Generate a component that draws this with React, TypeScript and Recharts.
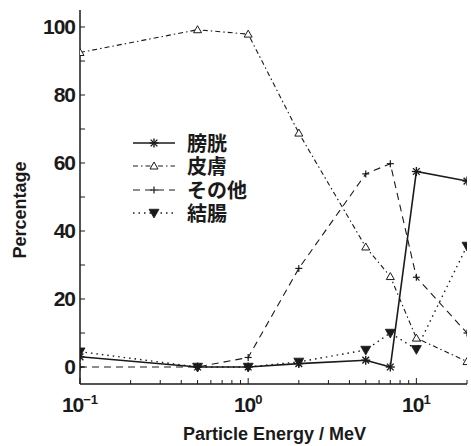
import { LineChart, Line, XAxis, YAxis } from 'recharts'

const energy = [0.1, 0.5, 1, 2, 5, 7, 10, 20]
const bladder = [3, 0, 0, 1, 2, 0, 57.5, 54.7]
const skin = [92.5, 99.2, 97.9, 68.8, 35.3, 26.6, 8.5, 1.6]
const other = [0, 0, 2.8, 29, 56.8, 59.8, 26.4, 10]
const colon = [4.5, 0, 0, 1.5, 5, 10, 5.2, 35.6]

const xTicks = [0.1, 0.2, 0.3, 0.4, 0.5, 0.6, 0.7, 0.8, 0.9, 1, 2, 3, 4, 5, 6, 7, 8, 9, 10, 20]
const xMajor = [0.1, 1, 10]
const xMajorLabels = ['−1', '0', '1']
const yTicks = [0, 10, 20, 30, 40, 50, 60, 70, 80, 90, 100]

const data = energy.map((e, i) => ({
  e,
  bladder: bladder[i],
  skin: skin[i],
  other: other[i],
  colon: colon[i],
}))

const INK = '#1a1a1a'
const FONT = '"Liberation Sans", Arial, sans-serif'

function Asterisk({ cx, cy, r = 4.5 }: any) {
  const d = r * 0.75
  return (
    <g stroke={INK} strokeWidth={1.4}>
      <line x1={cx - r} y1={cy} x2={cx + r} y2={cy} />
      <line x1={cx} y1={cy - r} x2={cx} y2={cy + r} />
      <line x1={cx - d} y1={cy - d} x2={cx + d} y2={cy + d} />
      <line x1={cx - d} y1={cy + d} x2={cx + d} y2={cy - d} />
    </g>
  )
}

function TriUp({ cx, cy, r = 4 }: any) {
  return (
    <polygon
      points={`${cx},${cy - r} ${cx - r},${cy + r * 0.75} ${cx + r},${cy + r * 0.75}`}
      fill="#fff"
      stroke={INK}
      strokeWidth={1}
    />
  )
}

function Plus({ cx, cy, r = 3.5 }: any) {
  return (
    <g stroke={INK} strokeWidth={1.2}>
      <line x1={cx - r} y1={cy} x2={cx + r} y2={cy} />
      <line x1={cx} y1={cy - r} x2={cx} y2={cy + r} />
    </g>
  )
}

function TriDown({ cx, cy, r = 5 }: any) {
  return (
    <polygon
      points={`${cx - r},${cy - r * 0.75} ${cx + r},${cy - r * 0.75} ${cx},${cy + r}`}
      fill={INK}
      stroke={INK}
      strokeWidth={0.8}
    />
  )
}

const series = [
  { key: 'bladder', name: '膀胱', dash: undefined, width: 1.6, Marker: Asterisk },
  { key: 'skin', name: '皮膚', dash: '5 3 1.5 3', width: 1.1, Marker: TriUp },
  { key: 'other', name: 'その他', dash: '7 5', width: 1.1, Marker: Plus },
  { key: 'colon', name: '結腸', dash: '1.5 4', width: 1.4, Marker: TriDown },
]

function BottomTick(props: any) {
  const { x, y, payload } = props
  const v = payload.value
  const mi = xMajor.findIndex((m) => Math.abs(m - v) < 1e-9)
  const len = mi >= 0 ? 6 : 4
  return (
    <g>
      <line x1={x} y1={y} x2={x} y2={y - len} stroke={INK} strokeWidth={1} />
      {mi >= 0 && (
        <text x={x} y={y + 28} textAnchor="middle" fontFamily={FONT} fontWeight="bold" fontSize={21} fill={INK}>
          <tspan letterSpacing={-1}>10</tspan>
          <tspan dy={-8} fontSize={13}>{xMajorLabels[mi]}</tspan>
        </text>
      )}
    </g>
  )
}

function TopTick(props: any) {
  const { x, y, payload } = props
  const v = payload.value
  const major = xMajor.some((m) => Math.abs(m - v) < 1e-9)
  return <line x1={x} y1={y} x2={x} y2={y + (major ? 6 : 4)} stroke={INK} strokeWidth={1} />
}

function LeftTick(props: any) {
  const { x, y, payload } = props
  const v = payload.value
  return (
    <g>
      <line x1={x} y1={y} x2={x + 5} y2={y} stroke={INK} strokeWidth={1} />
      {v % 20 === 0 && (
        <text x={x - 5} y={y + 7} textAnchor="end" fontFamily={FONT} fontWeight="bold" fontSize={21} letterSpacing={-1} fill={INK}>
          {v}
        </text>
      )}
    </g>
  )
}

function RightTick(props: any) {
  const { x, y } = props
  return <line x1={x} y1={y} x2={x - 5} y2={y} stroke={INK} strokeWidth={1} />
}

function XTitle(props: any) {
  const { viewBox } = props
  return (
    <text x={viewBox.x + viewBox.width / 2 + 1} y={viewBox.y + 56} textAnchor="middle" fontFamily={FONT} fontWeight="bold" fontSize={18} fill={INK}>
      Particle Energy / MeV
    </text>
  )
}

function YTitle(props: any) {
  const { viewBox } = props
  const cx = 20
  const cy = viewBox.y + viewBox.height / 2 + 13
  return (
    <text x={cx} y={cy} transform={`rotate(-90 ${cx} ${cy})`} textAnchor="middle" dominantBaseline="central" fontFamily={FONT} fontWeight="bold" fontSize={18} fill={INK}>
      Percentage
    </text>
  )
}

// legend as html rows so each label box is only as tall as its row
function LegendBox() {
  return (
    <div style={{ position: 'absolute', left: 125, top: 130, width: 140, height: 100 }}>
      {series.map((s, i) => (
        <div
          key={s.key}
          style={{ position: 'absolute', left: 0, top: 2 + i * 23.3, height: 22, display: 'flex', alignItems: 'center' }}
        >
          <svg width={62} height={22} style={{ display: 'block' }}>
            <line x1={8} y1={11} x2={50} y2={11} stroke={INK} strokeWidth={s.width} strokeDasharray={s.dash} />
            <s.Marker cx={29} cy={11} />
          </svg>
          <span
            style={{
              fontFamily: '"Noto Sans CJK JP", sans-serif',
              fontWeight: 'bold',
              fontSize: 20,
              lineHeight: '22px',
              height: 22,
              display: 'block',
              overflow: 'visible',
              color: INK,
              whiteSpace: 'nowrap',
            }}
          >
            {s.name}
          </span>
        </div>
      ))}
    </div>
  )
}

export default function App() {
  return (
    <div style={{ position: 'absolute', left: 0, top: 0, width: 471, height: 446, background: '#fff' }}>
      <LineChart width={471} height={446} data={data} margin={{ top: 10, right: 4, bottom: 0, left: 0 }}>
        <XAxis
          xAxisId="bottom"
          dataKey="e"
          type="number"
          scale="log"
          domain={[0.1, 20]}
          allowDataOverflow
          ticks={xTicks}
          interval={0}
          height={62}
          tickSize={0}
          tickMargin={0}
          tickLine={false}
          tick={<BottomTick />}
          axisLine={{ stroke: INK, strokeWidth: 1.5 }}
          label={<XTitle />}
        />
        <XAxis
          xAxisId="top"
          orientation="top"
          dataKey="e"
          type="number"
          scale="log"
          domain={[0.1, 20]}
          allowDataOverflow
          ticks={xTicks}
          interval={0}
          height={0}
          tickSize={0}
          tickMargin={0}
          tickLine={false}
          tick={<TopTick />}
          axisLine={{ stroke: INK, strokeWidth: 1.5 }}
        />
        <YAxis
          yAxisId="left"
          type="number"
          domain={[-5, 105]}
          allowDataOverflow
          ticks={yTicks}
          interval={0}
          width={80}
          tickSize={0}
          tickMargin={0}
          tickLine={false}
          tick={<LeftTick />}
          axisLine={{ stroke: INK, strokeWidth: 1.5 }}
          label={<YTitle />}
        />
        <YAxis
          yAxisId="right"
          orientation="right"
          type="number"
          domain={[-5, 105]}
          allowDataOverflow
          ticks={yTicks}
          interval={0}
          width={0}
          tickSize={0}
          tickMargin={0}
          tickLine={false}
          tick={<RightTick />}
          axisLine={{ stroke: INK, strokeWidth: 1.5 }}
        />
        {series.map((s) => (
          <Line
            key={s.key}
            xAxisId="bottom"
            yAxisId="left"
            dataKey={s.key}
            name={s.name}
            type="linear"
            stroke={INK}
            strokeWidth={s.width}
            strokeDasharray={s.dash}
            isAnimationActive={false}
            activeDot={false}
            dot={(p: any) => <s.Marker key={`${s.key}-${p.index}`} cx={p.cx} cy={p.cy} />}
          />
        ))}
      </LineChart>
      <LegendBox />
    </div>
  )
}
